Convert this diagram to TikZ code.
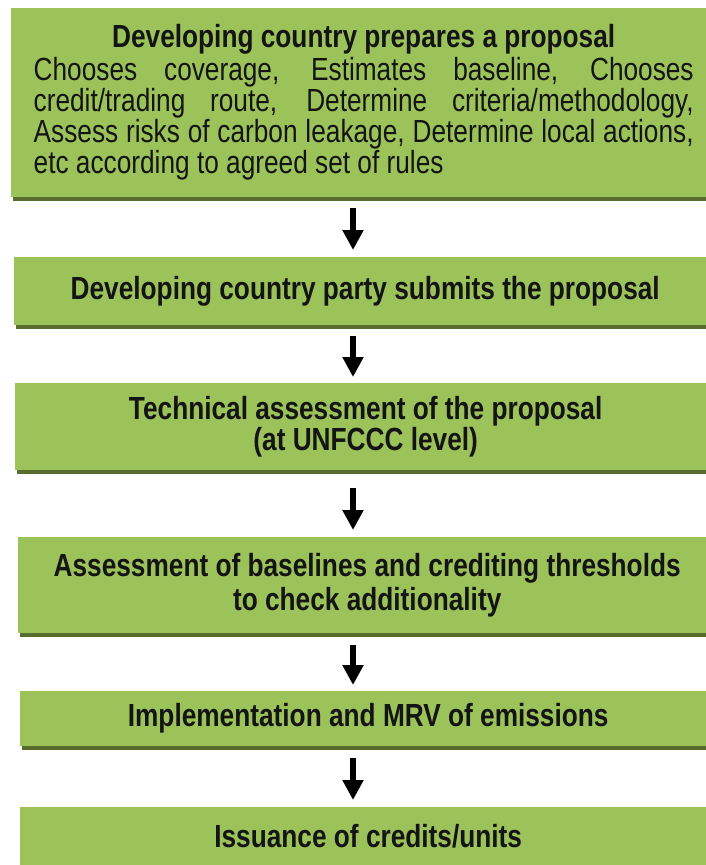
\documentclass[tikz,border=0pt]{standalone}
\usepackage{fontspec}
\setmainfont[FakeStretch=0.82]{Liberation Sans}
\usetikzlibrary{arrows.meta,shadows}
\definecolor{boxgreen}{RGB}{156,195,90}
\definecolor{shadowgreen}{RGB}{88,108,46}
\definecolor{txt}{RGB}{20,20,20}
\begin{document}
\begin{tikzpicture}[x=1pt,y=1pt,
  stepbox/.style={fill=boxgreen, draw=none, inner sep=0pt, anchor=north west,
    align=center, text=txt, font=\fontsize{32}{31}\selectfont\bfseries,
    drop shadow={shadow xshift=2pt, shadow yshift=-4pt, fill=shadowgreen, opacity=1}},
  arr/.style={-{Triangle[width=20pt,length=20pt]}, line width=5.5pt, black}
]
\useasboundingbox (0,0) rectangle (706,-865);

\node[stepbox, minimum width=705pt, minimum height=189pt, inner xsep=22.5pt,
      text width=660pt, align=justify, font=\fontsize{32}{31}\selectfont] (b1) at (11,-8)
  {{\centering\bfseries Developing country prepares a proposal\par}\vspace{2pt}
   Chooses coverage, Estimates baseline, Chooses\linebreak
   credit/trading route, Determine criteria/methodology,\linebreak
   Assess risks of carbon leakage, Determine local actions,\linebreak
   etc according to agreed set of rules\par};

\node[stepbox, minimum width=702pt, minimum height=68pt] (b2) at (14,-257)
  {Developing country party submits the proposal};

\node[stepbox, minimum width=701pt, minimum height=87pt] (b3) at (15,-383)
  {Technical assessment of the proposal\\(at UNFCCC level)};

\node[stepbox, minimum width=698pt, minimum height=96pt] (b4) at (18,-537)
  {Assessment of baselines and crediting thresholds\\[3pt]to check additionality};

\node[stepbox, minimum width=696pt, minimum height=55pt] (b5) at (20,-691)
  {Implementation and MRV of emissions};

\node[stepbox, minimum width=696pt, minimum height=58pt] (b6) at (20,-807)
  {Issuance of credits/units};

\coordinate (ax) at (353,0);
\draw[arr] ([yshift=-11pt]b1.south -| ax) -- ([yshift=7pt]b2.north -| ax);
\draw[arr] ([yshift=-11pt]b2.south -| ax) -- ([yshift=6pt]b3.north -| ax);
\draw[arr] ([yshift=-18pt]b3.south -| ax) -- ([yshift=7pt]b4.north -| ax);
\draw[arr] ([yshift=-12pt]b4.south -| ax) -- ([yshift=6pt]b5.north -| ax);
\draw[arr] ([yshift=-12pt]b5.south -| ax) -- ([yshift=7pt]b6.north -| ax);
\end{tikzpicture}
\end{document}
